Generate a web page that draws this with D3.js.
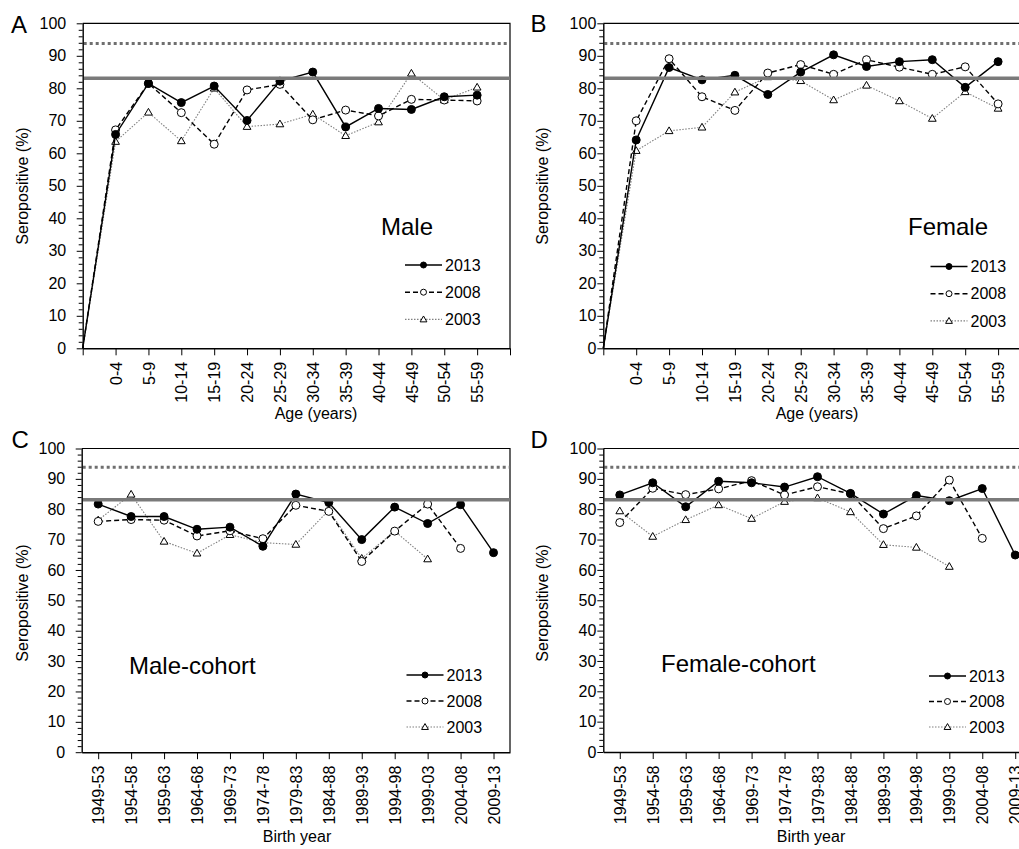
<!DOCTYPE html>
<html>
<head>
<meta charset="utf-8">
<script src="https://cdn.jsdelivr.net/npm/d3@7"></script>
<style>
body { margin:0; background:#fff; }
svg { display:block; font-family:"Liberation Sans", Arial, sans-serif; }
</style>
</head>
<body>
<div class="figure"></div>
<script>
// ---- data ----
var ageGroups = ["0-4","5-9","10-14","15-19","20-24","25-29","30-34","35-39","40-44","45-49","50-54","55-59"]
var birthCohorts = ["1949-53","1954-58","1959-63","1964-68","1969-73","1974-78","1979-83","1984-88","1989-93","1994-98","1999-03","2004-08","2009-13"]
var surveyYears = ["2013","2008","2003"]
var yTicks = [0,10,20,30,40,50,60,70,80,90,100]
var originValue = 0
var dottedLevel = 93.8
var solidLevel = 83.1

var maleAge2013 = [65.8,81.5,75.6,80.7,70.1,82.2,85.0,68.1,73.8,73.5,77.4,77.9]
var maleAge2008 = [67.2,81.5,72.5,62.8,79.5,81.2,70.3,73.3,71.5,76.6,76.4,76.1]
var maleAge2003 = [63.6,72.6,63.8,80.0,68.2,69.0,72.0,65.4,69.6,84.6,76.4,80.3]

var femaleAge2013 = [64.1,86.4,82.6,84.0,78.1,85.0,90.3,86.7,88.2,88.8,80.3,88.2]
var femaleAge2008 = [70.0,89.1,77.4,73.2,84.7,87.3,84.3,88.8,86.5,84.3,86.6,75.2]
var femaleAge2003 = [60.8,66.9,68.0,78.8,83.5,82.3,76.4,80.9,76.1,70.7,78.9,73.8]

var maleCohort2013 = [81.7,77.6,77.6,73.4,74.1,67.8,85.0,82.2,70.0,80.7,75.3,81.5,65.7]
var maleCohort2008 = [76.0,76.6,76.4,71.2,72.9,70.3,81.3,79.3,62.8,72.8,81.7,67.1]
var maleCohort2003 = [76.4,84.9,69.4,65.5,71.6,69.0,68.4,79.7,63.8,72.8,63.6]

var femaleCohort2013 = [84.7,88.7,80.8,89.2,88.7,87.3,90.7,85.2,78.4,84.5,82.8,86.8,64.9]
var femaleCohort2008 = [75.6,86.9,84.8,86.7,89.4,84.7,87.4,85.1,73.6,77.8,89.6,70.4]
var femaleCohort2003 = [79.4,71.0,76.5,81.4,76.9,82.5,83.7,79.1,68.3,67.4,61.1]

var width = 1019
var height = 849
var svg = d3.select(".figure").append("svg").attr("width",width).attr("height",height)
svg.append("rect").attr("width",width).attr("height",height).attr("fill","#fff")

//series styles
var styles = {
	"2013": {stroke:"#000", width:1.4, dash:null, marker:"filled"},
	"2008": {stroke:"#000", width:1.4, dash:"5,3", marker:"open"},
	"2003": {stroke:"#808080", width:1.1, dash:"1.5,1.5", marker:"triangle"}
}

function drawMarker(g, kind, x, y, big) {
	if(kind == "triangle") {
		g.append("path").attr("d",d3.symbol().type(d3.symbolTriangle).size(big ? 26 : 20)())
		.attr("transform","translate("+x+","+(y+0.5)+")")
		.attr("fill","#fff").attr("stroke","#000").attr("stroke-width",1)
	} else {
		g.append("circle").attr("cx",x).attr("cy",y).attr("r",big ? 4 : 3)
		.attr("fill",kind == "filled" ? "#000" : "#fff").attr("stroke","#000").attr("stroke-width",1)
	}
}

function drawPanel(p) {
	var panel = svg.append("g").attr("class","panel "+p.letter)
	var y = d3.scaleLinear().domain([0,100]).range([p.bottom,p.top])
	var x, xAxis
	if(p.mode == "age") {
		x = d3.scaleLinear().domain([0,p.cats.length+1]).range([p.left,p.right])
		xAxis = d3.axisBottom(x).tickValues(d3.range(0,p.cats.length+2))
			.tickFormat(function(i){return p.cats[i-1] || ""})
	} else {
		x = d3.scalePoint().domain(p.cats).range([p.left,p.right]).padding(0.5)
		xAxis = d3.axisBottom(x)
	}
	xAxis.tickSize(7).tickSizeOuter(0)
	function xPos(i) { return p.mode == "age" ? x(i+1) : x(p.cats[i]) }

	//frame top + right
	panel.append("path").attr("d","M"+p.left+","+p.top+"H"+p.right+"V"+p.bottom)
	.attr("fill","none").attr("stroke","#000").attr("stroke-width",1.2)

	//series, oldest first so 2013 sits on top
	p.series.slice().reverse().forEach(function(s) {
		var st = styles[s.year]
		var pts = s.values.map(function(v,i){return [xPos(i),y(v)]})
		if(p.mode == "age") pts.unshift([x(0),y(originValue)])
		panel.append("path").attr("d",d3.line()(pts))
		.attr("fill","none").attr("stroke",st.stroke).attr("stroke-width",st.width)
		.attr("stroke-dasharray",st.dash)
		s.values.forEach(function(v,i){ drawMarker(panel, st.marker, xPos(i), y(v), true) })
	})

	//reference levels
	panel.append("line").attr("x1",p.left+1).attr("x2",p.right).attr("y1",y(dottedLevel)).attr("y2",y(dottedLevel))
	.attr("stroke","#6f6f6f").attr("stroke-width",3).attr("stroke-dasharray","3,3")
	panel.append("line").attr("x1",p.left+1).attr("x2",p.right).attr("y1",y(solidLevel)).attr("y2",y(solidLevel))
	.attr("stroke","#7a7a7a").attr("stroke-width",3.5)

	//y axis
	var ya = panel.append("g").attr("transform","translate("+p.left+",0)")
	.call(d3.axisLeft(y).tickValues(yTicks).tickSize(6).tickSizeOuter(0).tickPadding(p.tickPad))
	ya.select(".domain").attr("stroke-width",1.4)
	ya.selectAll("text").style("font-size","16px").attr("fill","#000").style("font-family","Liberation Sans, Arial, sans-serif")
	panel.append("g").attr("transform","translate("+p.left+",0)")
	.call(d3.axisLeft(y).tickValues(d3.range(0,101,2).filter(function(d){return d % 10 != 0})).tickSize(4).tickFormat(""))
	.select(".domain").remove()

	//x axis
	var xa = panel.append("g").attr("transform","translate(0,"+p.bottom+")").call(xAxis)
	xa.select(".domain").attr("stroke-width",1.4)
	xa.selectAll("text").attr("transform","rotate(-90)").attr("x",-13.5).attr("y",0).attr("dy","0.35em")
	.style("text-anchor","end").style("font-size","16px").attr("fill","#000").style("font-family","Liberation Sans, Arial, sans-serif")

	//labels
	panel.append("text").attr("x",p.letterX).attr("y",p.letterY).text(p.letter).style("font-size","24px")
	panel.append("text").attr("x",p.titleX).attr("y",p.titleY).text(p.title).style("font-size","24px")
	panel.append("text").attr("transform","translate("+p.ylabelX+","+p.ylabelY+") rotate(-90)")
	.attr("text-anchor","middle").style("font-size","16px").text("Seropositive (%)")
	panel.append("text").attr("x",p.xlabelX).attr("y",p.xlabelY).attr("text-anchor","middle")
	.style("font-size","16px").text(p.xlabel)

	//legend
	var legend = panel.append("g").attr("class","legend")
	surveyYears.forEach(function(yr,i) {
		var st = styles[yr]
		var ly = p.legendY + i*p.legendDy
		legend.append("line").attr("x1",p.legendX).attr("x2",p.legendX+37).attr("y1",ly).attr("y2",ly)
		.attr("stroke",st.stroke).attr("stroke-width",st.width).attr("stroke-dasharray",st.dash)
		drawMarker(legend, st.marker, p.legendX+18.5, ly, false)
		legend.append("text").attr("x",p.legendX+40).attr("y",ly).attr("dy","0.35em")
		.style("font-size","16px").text(yr)
	})
}

drawPanel({letter:"A", mode:"age", cats:ageGroups, left:82.7, right:510, top:23.3, bottom:348.3, tickPad:10.5,
	series:[{year:"2013",values:maleAge2013},{year:"2008",values:maleAge2008},{year:"2003",values:maleAge2003}],
	letterX:11, letterY:32.5, title:"Male", titleX:381, titleY:235, xlabel:"Age (years)", xlabelX:316, xlabelY:419,
	ylabelX:28, ylabelY:186, legendX:405, legendY:265, legendDy:27.2})

drawPanel({letter:"B", mode:"age", cats:ageGroups, left:603.3, right:1031, top:23.3, bottom:348.3, tickPad:1,
	series:[{year:"2013",values:femaleAge2013},{year:"2008",values:femaleAge2008},{year:"2003",values:femaleAge2003}],
	letterX:530.5, letterY:32, title:"Female", titleX:908, titleY:235, xlabel:"Age (years)", xlabelX:817, xlabelY:419,
	ylabelX:548, ylabelY:186, legendX:930.5, legendY:266.5, legendDy:27.2})

drawPanel({letter:"C", mode:"cohort", cats:birthCohorts, left:81.7, right:510, top:448.5, bottom:752.2, tickPad:10.5,
	series:[{year:"2013",values:maleCohort2013},{year:"2008",values:maleCohort2008},{year:"2003",values:maleCohort2003}],
	letterX:11.5, letterY:448, title:"Male-cohort", titleX:129, titleY:674, xlabel:"Birth year", xlabelX:297, xlabelY:842,
	ylabelX:28, ylabelY:603, legendX:406.5, legendY:675, legendDy:26})

drawPanel({letter:"D", mode:"cohort", cats:birthCohorts, left:603.3, right:1031.7, top:448.5, bottom:752, tickPad:1,
	series:[{year:"2013",values:femaleCohort2013},{year:"2008",values:femaleCohort2008},{year:"2003",values:femaleCohort2003}],
	letterX:530.5, letterY:448, title:"Female-cohort", titleX:661, titleY:672, xlabel:"Birth year", xlabelX:811, xlabelY:842,
	ylabelX:548, ylabelY:603, legendX:929, legendY:676, legendDy:25.5})
</script>
</body>
</html>
